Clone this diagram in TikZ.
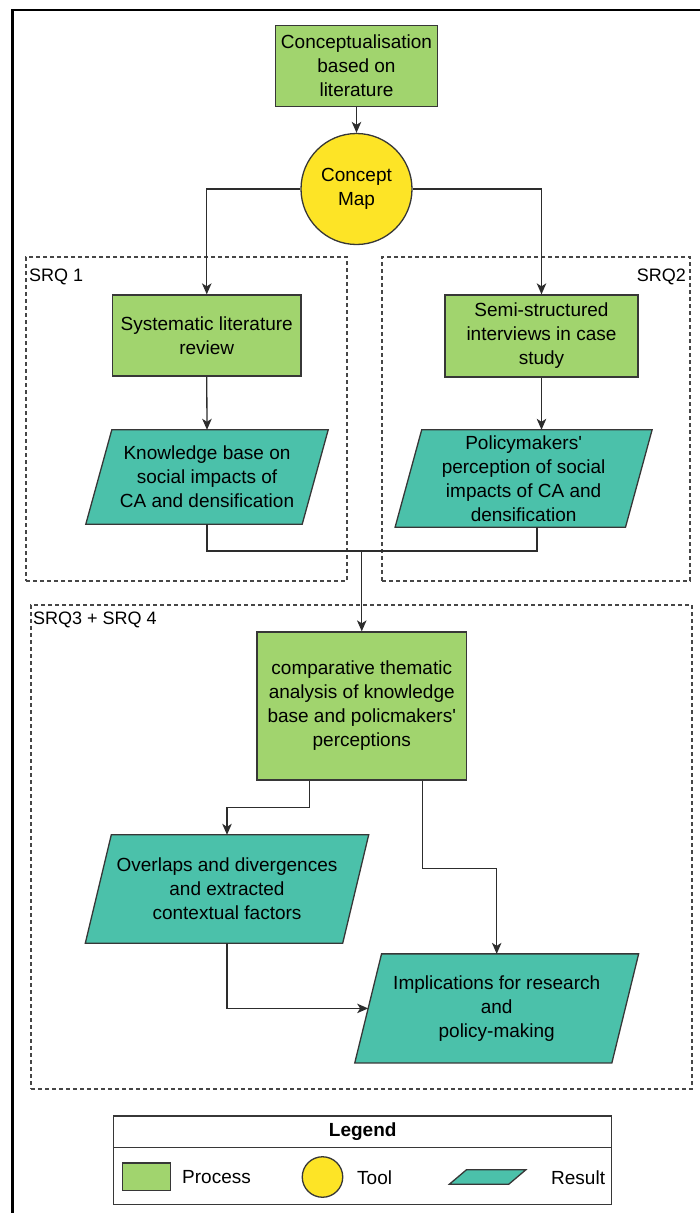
\documentclass[tikz,border=0pt]{standalone}
\usepackage{fontspec}
\setmainfont{Liberation Sans}[Ligatures=TeXOff]
\usetikzlibrary{arrows.meta,backgrounds,calc}

\definecolor{procgreen}{RGB}{161,212,110}
\definecolor{resultteal}{RGB}{75,193,170}
\definecolor{toolyellow}{RGB}{253,228,38}
\definecolor{edgegray}{RGB}{55,55,55}
\definecolor{linegray}{RGB}{45,45,45}
\definecolor{dashgray}{RGB}{70,70,70}

\tikzset{
  every node/.style={font=\fontsize{19}{24}\selectfont, text=black},
  process/.style={draw=edgegray, line width=1.3pt, fill=procgreen, inner sep=0pt, align=center},
  tool/.style={circle, draw=edgegray, line width=1.3pt, fill=toolyellow, inner sep=0pt, align=center},
  resultarea/.style={inner sep=0pt, align=center},
  resultfill/.style={draw=edgegray, line width=1.3pt, fill=resultteal},
  flow/.style={draw=linegray, line width=1.3pt, -{Stealth[length=11pt,width=9.5pt,inset=3pt]}},
  link/.style={draw=linegray, line width=1.3pt},
  group/.style={draw=dashgray, line width=1.3pt, dash pattern=on 4pt off 3pt, inner sep=0pt},
  grouplabel/.style={font=\fontsize{18}{22}\selectfont, inner sep=0pt},
  legendbox/.style={draw=edgegray, line width=1.3pt, inner sep=0pt},
}

% parallelogram behind a result node: top edge pushed right, bottom edge pushed left
\newcommand\resultshape[3][resultfill]{%
  \begin{scope}[on background layer]
    \draw[#1] ([xshift=#3]#2.north west) -- ([xshift=#3]#2.north east)
      -- ([xshift=-#3]#2.south east) -- ([xshift=-#3]#2.south west) -- cycle;
  \end{scope}}

\begin{document}
\begin{tikzpicture}[x=1pt,y=-1pt]
  \useasboundingbox (0,0) rectangle (700,1213);

  % outer frame
  \draw[black, line width=2.2pt] (700,10) -- (12.5,10) -- (12.5,1213);

  % research-question groups
  \node[group, minimum width=321, minimum height=324] (srq1) at (186.5,419) {};
  \node[group, minimum width=308, minimum height=324] (srq2) at (536,419) {};
  \node[group, minimum width=661, minimum height=484] (srq34) at (361.5,847) {};
  \node[grouplabel, anchor=west] (srq1lab) at (29,277) {SRQ 1};
  \node[grouplabel, anchor=east] (srq2lab) at (686,277) {SRQ2};
  \node[grouplabel, anchor=west] (srq34lab) at (33,620) {SRQ3 + SRQ 4};

  % processes and tool
  \node[process, minimum width=162, minimum height=81] (c0) at (356.5,66)
    {Conceptualisation\\based on\\literature};
  \node[tool, minimum size=111] (cm) at (356.5,189) {Concept\\Map};
  \node[process, minimum width=188.5, minimum height=81] (slr) at (206.75,335.5)
    {Systematic literature\\review};
  \node[process, minimum width=193, minimum height=82] (semi) at (541.5,336)
    {Semi-structured\\interviews in case\\study};
  \node[process, minimum width=209.5, minimum height=148] (comp) at (361.75,706)
    {comparative thematic\\analysis of knowledge\\base and policmakers'\\perceptions};

  % results
  \node[resultarea, minimum width=216, minimum height=94] (kb) at (207,477)
    {Knowledge base on\\social impacts of\\CA and densification};
  \resultshape{kb}{13pt}
  \node[resultarea, minimum width=230, minimum height=97] (pol) at (523.6,478.5)
    {Policymakers'\\perception of social\\impacts of CA and\\densification};
  \resultshape{pol}{13.3pt}
  \node[resultarea, minimum width=257, minimum height=108] (ov) at (227,889)
    {Overlaps and divergences\\and extracted\\contextual factors};
  \resultshape{ov}{13pt}
  \node[resultarea, minimum width=256.7, minimum height=108.7] (imp) at (496.7,1008.4)
    {Implications for research\\and\\policy-making};
  \resultshape{imp}{13.4pt}

  % connectors
  \draw[flow] (c0.south) -- (cm.north);
  \draw[flow] (cm.west) -| (slr.north);
  \draw[flow] (cm.east) -| (semi.north);
  \draw[flow] (slr.south) -- (kb.north);
  \draw[flow] (semi.south) -- (semi.south |- pol.north);
  \coordinate (join) at (361.75,551);
  \draw[link] (kb.south) |- (join);
  \draw[link] ([xshift=13.4pt]pol.south) |- (join);
  \draw[flow] (join) -- (comp.north);
  \draw[flow] ([xshift=-52.4pt]comp.south) -- ++(0,27) -| (ov.north);
  \draw[flow] ([xshift=61pt]comp.south) -- ++(0,87.7) -| (imp.north);
  \draw[flow] (ov.south) |- (imp.west);

  % legend
  \node[legendbox, minimum width=497.8, minimum height=88.3] (leg) at (362.7,1160.15) {};
  \node[legendbox, minimum width=497.8, minimum height=31.7, anchor=north] (leghead) at (leg.north)
    {\textbf{Legend}};
  \node[process, minimum width=47.7, minimum height=27.7] (legproc) at (146.65,1176.85) {};
  \node[anchor=west, inner sep=0pt] (legproctxt) at (182,1177.5) {Process};
  \node[tool, minimum size=40.5] (legtool) at (322.5,1177) {};
  \node[anchor=west, inner sep=0pt] (legtooltxt) at (357,1177.5) {Tool};
  \node[resultarea, minimum width=59, minimum height=14] (legres) at (487.6,1177) {};
  \resultshape{legres}{8.5pt}
  \node[anchor=west, inner sep=0pt] (legrestxt) at (551,1177.5) {Result};
\end{tikzpicture}
\end{document}
